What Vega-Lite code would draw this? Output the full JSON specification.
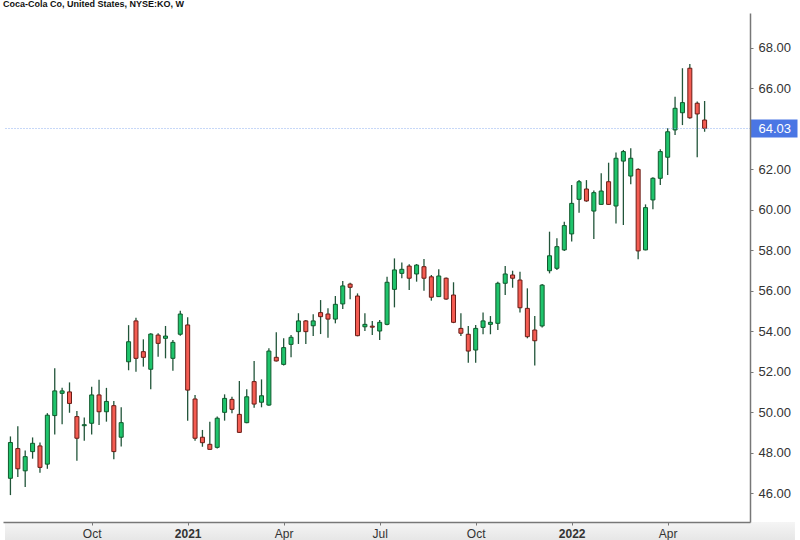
{
  "$schema": "https://vega.github.io/schema/vega-lite/v6.json",
  "width": 747,
  "height": 509,
  "autosize": {"type": "none"},
  "padding": {"left": 3, "top": 13, "right": 50, "bottom": 18},
  "background": "white",
  "config": {"view": {"stroke": null}, "font": "Liberation Sans"},
  "title": {"text": "Coca-Cola Co, United States, NYSE:KO, W", "anchor": "start", "fontSize": 9, "fontWeight": "bold", "color": "#111111", "offset": 4, "font": "Liberation Sans"},
  "data": {"values": [
    {"d":"2020-07-20","o":46.73,"h":48.8,"l":45.9,"c":48.5},
    {"d":"2020-07-27","o":48.2,"h":49.3,"l":46.8,"c":47.2},
    {"d":"2020-08-03","o":47.1,"h":48.1,"l":46.3,"c":47.8},
    {"d":"2020-08-10","o":48.05,"h":48.75,"l":47.7,"c":48.46},
    {"d":"2020-08-17","o":48.33,"h":48.5,"l":47.0,"c":47.27},
    {"d":"2020-08-24","o":47.43,"h":49.95,"l":47.2,"c":49.85},
    {"d":"2020-08-31","o":49.83,"h":52.17,"l":48.9,"c":51.05},
    {"d":"2020-09-07","o":50.93,"h":51.2,"l":49.4,"c":51.05},
    {"d":"2020-09-14","o":51.0,"h":51.47,"l":49.97,"c":50.43},
    {"d":"2020-09-21","o":49.78,"h":50.06,"l":47.6,"c":48.71},
    {"d":"2020-09-28","o":49.33,"h":49.74,"l":48.59,"c":49.38},
    {"d":"2020-10-05","o":49.45,"h":51.26,"l":48.9,"c":50.85},
    {"d":"2020-10-12","o":50.85,"h":51.6,"l":49.36,"c":50.02},
    {"d":"2020-10-19","o":50.02,"h":51.2,"l":49.53,"c":50.53},
    {"d":"2020-10-26","o":50.32,"h":50.55,"l":47.67,"c":48.05},
    {"d":"2020-11-02","o":48.76,"h":50.24,"l":48.3,"c":49.48},
    {"d":"2020-11-09","o":52.49,"h":54.3,"l":52.07,"c":53.48},
    {"d":"2020-11-16","o":54.51,"h":54.67,"l":52.0,"c":52.66},
    {"d":"2020-11-23","o":52.99,"h":53.6,"l":52.25,"c":52.71},
    {"d":"2020-11-30","o":52.12,"h":53.9,"l":51.13,"c":53.86},
    {"d":"2020-12-07","o":53.81,"h":53.9,"l":52.74,"c":53.4},
    {"d":"2020-12-14","o":53.65,"h":54.26,"l":52.66,"c":53.76},
    {"d":"2020-12-21","o":52.66,"h":53.57,"l":52.05,"c":53.45},
    {"d":"2020-12-28","o":53.85,"h":55.01,"l":53.78,"c":54.85},
    {"d":"2021-01-04","o":54.31,"h":54.69,"l":49.58,"c":51.09},
    {"d":"2021-01-11","o":50.65,"h":50.85,"l":48.59,"c":48.71},
    {"d":"2021-01-18","o":48.76,"h":49.12,"l":48.29,"c":48.49},
    {"d":"2021-01-25","o":48.41,"h":49.53,"l":48.15,"c":48.16},
    {"d":"2021-02-01","o":48.26,"h":49.78,"l":48.2,"c":49.7},
    {"d":"2021-02-08","o":49.99,"h":50.88,"l":49.58,"c":50.68},
    {"d":"2021-02-15","o":50.63,"h":50.76,"l":49.94,"c":50.14},
    {"d":"2021-02-22","o":49.89,"h":51.54,"l":48.98,"c":49.0},
    {"d":"2021-03-01","o":49.48,"h":51.13,"l":49.45,"c":50.76},
    {"d":"2021-03-08","o":51.51,"h":52.53,"l":50.22,"c":50.4},
    {"d":"2021-03-15","o":50.49,"h":51.62,"l":50.24,"c":50.81},
    {"d":"2021-03-22","o":50.35,"h":53.16,"l":50.32,"c":53.02},
    {"d":"2021-03-29","o":52.71,"h":53.95,"l":52.5,"c":52.53},
    {"d":"2021-04-05","o":52.36,"h":53.65,"l":52.3,"c":53.19},
    {"d":"2021-04-12","o":53.35,"h":53.81,"l":52.71,"c":53.7},
    {"d":"2021-04-19","o":53.98,"h":54.89,"l":53.37,"c":54.51},
    {"d":"2021-04-26","o":54.51,"h":54.55,"l":53.37,"c":53.98},
    {"d":"2021-05-03","o":54.27,"h":54.84,"l":53.76,"c":54.51},
    {"d":"2021-05-10","o":54.92,"h":55.54,"l":53.86,"c":54.72},
    {"d":"2021-05-17","o":54.85,"h":55.13,"l":53.68,"c":54.6},
    {"d":"2021-05-24","o":54.6,"h":55.74,"l":54.39,"c":55.33},
    {"d":"2021-05-31","o":55.35,"h":56.48,"l":55.1,"c":56.24},
    {"d":"2021-06-07","o":56.33,"h":56.4,"l":55.58,"c":56.17},
    {"d":"2021-06-14","o":55.74,"h":55.87,"l":53.75,"c":53.78},
    {"d":"2021-06-21","o":54.22,"h":54.89,"l":54.01,"c":54.34},
    {"d":"2021-06-28","o":54.25,"h":54.51,"l":53.81,"c":54.2},
    {"d":"2021-07-05","o":54.01,"h":54.55,"l":53.57,"c":54.44},
    {"d":"2021-07-12","o":54.34,"h":56.69,"l":54.3,"c":56.42},
    {"d":"2021-07-19","o":56.07,"h":57.6,"l":55.18,"c":57.03},
    {"d":"2021-07-26","o":56.86,"h":57.4,"l":56.62,"c":57.06},
    {"d":"2021-08-02","o":57.22,"h":57.31,"l":56.04,"c":56.62},
    {"d":"2021-08-09","o":56.83,"h":57.32,"l":56.45,"c":57.27},
    {"d":"2021-08-16","o":57.19,"h":57.57,"l":56.0,"c":56.62},
    {"d":"2021-08-23","o":56.69,"h":56.78,"l":55.51,"c":55.68},
    {"d":"2021-08-30","o":55.71,"h":57.06,"l":55.7,"c":56.73},
    {"d":"2021-09-06","o":56.62,"h":56.65,"l":55.55,"c":55.59},
    {"d":"2021-09-13","o":55.79,"h":56.42,"l":54.4,"c":54.44},
    {"d":"2021-09-20","o":54.14,"h":54.89,"l":53.76,"c":53.9},
    {"d":"2021-09-27","o":53.85,"h":54.26,"l":52.44,"c":53.02},
    {"d":"2021-10-04","o":53.07,"h":54.31,"l":52.44,"c":54.14},
    {"d":"2021-10-11","o":54.19,"h":54.92,"l":53.85,"c":54.51},
    {"d":"2021-10-18","o":54.34,"h":54.75,"l":53.85,"c":54.44},
    {"d":"2021-10-25","o":54.39,"h":56.45,"l":54.06,"c":56.37},
    {"d":"2021-11-01","o":56.37,"h":57.22,"l":55.79,"c":56.83},
    {"d":"2021-11-08","o":56.78,"h":56.99,"l":56.15,"c":56.62},
    {"d":"2021-11-15","o":56.53,"h":56.94,"l":54.92,"c":55.16},
    {"d":"2021-11-22","o":55.13,"h":56.12,"l":53.65,"c":53.73},
    {"d":"2021-11-29","o":54.06,"h":54.75,"l":52.3,"c":53.53},
    {"d":"2021-12-06","o":54.26,"h":56.33,"l":54.19,"c":56.28},
    {"d":"2021-12-13","o":56.99,"h":58.92,"l":56.86,"c":57.73},
    {"d":"2021-12-20","o":57.11,"h":58.59,"l":57.03,"c":58.18},
    {"d":"2021-12-27","o":58.02,"h":59.41,"l":57.97,"c":59.22},
    {"d":"2022-01-03","o":58.81,"h":61.23,"l":58.43,"c":60.32},
    {"d":"2022-01-10","o":60.52,"h":61.47,"l":59.86,"c":61.39},
    {"d":"2022-01-17","o":61.03,"h":61.47,"l":60.4,"c":60.44},
    {"d":"2022-01-24","o":59.94,"h":60.95,"l":58.56,"c":60.85},
    {"d":"2022-01-31","o":60.27,"h":61.81,"l":60.25,"c":60.93},
    {"d":"2022-02-07","o":61.39,"h":62.33,"l":60.25,"c":60.27},
    {"d":"2022-02-14","o":60.19,"h":62.83,"l":59.33,"c":62.55},
    {"d":"2022-02-21","o":62.41,"h":62.96,"l":59.25,"c":62.88},
    {"d":"2022-02-28","o":61.67,"h":63.04,"l":61.26,"c":62.55},
    {"d":"2022-03-07","o":62.0,"h":62.05,"l":57.56,"c":57.97},
    {"d":"2022-03-14","o":58.02,"h":60.27,"l":58.0,"c":60.11},
    {"d":"2022-03-21","o":60.49,"h":61.61,"l":60.03,"c":61.56},
    {"d":"2022-03-28","o":61.56,"h":63.0,"l":61.23,"c":62.88},
    {"d":"2022-04-04","o":62.6,"h":64.03,"l":61.72,"c":63.86},
    {"d":"2022-04-11","o":63.95,"h":65.59,"l":63.7,"c":65.02},
    {"d":"2022-04-18","o":64.8,"h":67.0,"l":64.19,"c":65.3},
    {"d":"2022-04-25","o":67.0,"h":67.21,"l":64.5,"c":64.55},
    {"d":"2022-05-02","o":65.27,"h":65.35,"l":62.6,"c":64.74},
    {"d":"2022-05-09","o":64.44,"h":65.38,"l":63.86,"c":64.03}
  ]},
  "encoding": {
    "x": {
      "field": "d", "type": "temporal",
      "scale": {"type": "utc", "domain": [1595004220800, 1655362656000]},
      "axis": {
        "title": null,
        "zindex": 2,
        "values": [1601856000000, 1609718400000, 1617580800000, 1625443200000, 1633305600000, 1641168000000, 1649030400000],
        "labelExpr": "utcmonth(datum.value) == 0 ? utcFormat(datum.value, '%Y') : utcFormat(datum.value, '%b')",
        "labelFontWeight": {"condition": {"test": "utcmonth(datum.value) == 0", "value": "bold"}, "value": "normal"},
        "labelFont": "Liberation Sans",
        "labelFontSize": 12,
        "labelColor": "#333333",
        "labelFlush": false,
        "labelPadding": 3,
        "tickSize": 3,
        "tickColor": "#777777",
        "domainColor": "#777777",
        "domainWidth": 1.5,
        "grid": false
      }
    },
    "y": {
      "type": "quantitative",
      "scale": {"domain": [44.57, 69.73], "zero": false, "nice": false},
      "axis": {
        "title": null,
        "orient": "right",
        "zindex": 2,
        "values": [46, 48, 50, 52, 54, 56, 58, 60, 62, 64.03, 66, 68],
        "format": ".2f",
        "labelOverlap": false,
        "labelBound": false,
        "labelFont": "Liberation Sans",
        "labelFontSize": 13,
        "labelColor": {"condition": {"test": "datum.value == 64.03", "value": "#ffffff"}, "value": "#333333"},
        "labelPadding": {"condition": {"test": "datum.value == 64.03", "value": -39}, "value": 5},
        "tickSize": {"condition": {"test": "datum.value == 64.03", "value": 47}, "value": 3},
        "tickWidth": {"condition": {"test": "datum.value == 64.03", "value": 18}, "value": 1},
        "tickColor": {"condition": {"test": "datum.value == 64.03", "value": "#4a76e4"}, "value": "#777777"},
        "domainColor": "#777777",
        "domainWidth": 1.5,
        "grid": true,
        "gridDash": [1, 2],
        "gridColor": "#8fb0f0",
        "gridOpacity": {"condition": {"test": "datum.value == 64.03", "value": 1}, "value": 0}
      }
    }
  },
  "layer": [
    {
      "mark": {"type": "rect", "clip": false,
        "fill": {"gradient": "linear", "x1": 0, "y1": 0, "x2": 0, "y2": 1, "stops": [{"offset": 0, "color": "#f5f5f5"}, {"offset": 1, "color": "#e6e6e6"}]}},
      "encoding": {
        "x": {"datum": 1594761817445, "type": "temporal"},
        "x2": {"datum": 1659402823690},
        "y": {"datum": 44.57, "type": "quantitative"},
        "y2": {"datum": 43.66}
      }
    },
    {
      "mark": {"type": "rule", "strokeWidth": 1.3, "color": "#22553a"},
      "encoding": {"y": {"field": "l"}, "y2": {"field": "h"}}
    },
    {
      "mark": {"type": "bar", "width": 4, "strokeWidth": 1},
      "encoding": {
        "y": {"field": "o"},
        "y2": {"field": "c"},
        "fill": {"condition": {"test": "datum.c >= datum.o", "value": "#1fc46c"}, "value": "#f45c52"},
        "stroke": {"condition": {"test": "datum.c >= datum.o", "value": "#0f5a2c"}, "value": "#6a1c16"}
      }
    }
  ]
}
